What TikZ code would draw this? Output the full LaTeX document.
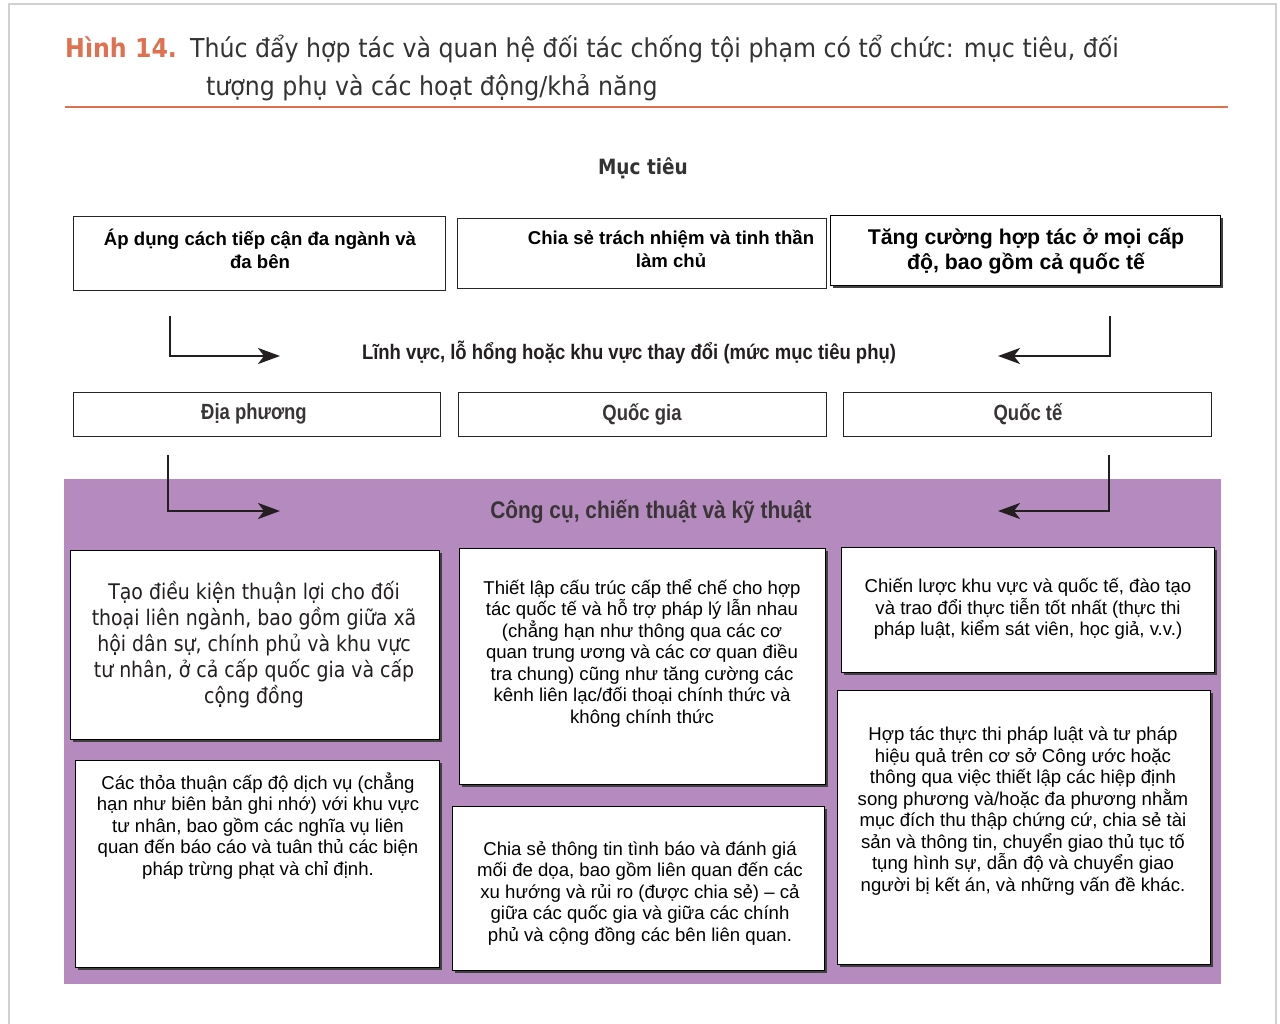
\documentclass[tikz,border=0pt]{standalone}
\usepackage{fontspec}
\setmainfont{Liberation Sans}
\newfontfamily\humfont[FakeStretch=0.91]{DejaVu Sans}
\newfontfamily\boxhumfont[FakeStretch=0.88]{DejaVu Sans}
\newfontfamily\narrowfont[FakeStretch=0.88]{Liberation Sans}
\newfontfamily\levelfont[FakeStretch=0.84]{Liberation Sans}
\newfontfamily\toolsfont[FakeStretch=0.87]{Liberation Sans}
\usetikzlibrary{shadows,arrows.meta}
\definecolor{accent}{HTML}{E0704F}
\definecolor{panelbg}{HTML}{B58BBF}
\definecolor{ink}{HTML}{231F20}
\definecolor{titleink}{HTML}{333333}
\begin{document}
\begin{tikzpicture}[x=1pt,y=-1pt,
  card/.style={draw=black, line width=1.1pt, fill=white, inner sep=0pt,
    anchor=north west,
    drop shadow={shadow xshift=2pt, shadow yshift=-2pt, fill=black!75, opacity=1}},
  plaincard/.style={draw=black!85, line width=1.1pt, fill=white, inner sep=0pt, anchor=north west},
  body/.style={align=center, font=\fontsize{18.6}{21.5}\selectfont, text=black, inner sep=0pt},
  headbold/.style={align=center, font=\fontsize{18.6}{22.5}\selectfont\bfseries, text=black, inner sep=0pt},
  levelname/.style={font=\levelfont\fontsize{22}{24}\selectfont\bfseries, text=ink!90, inner sep=0pt},
  flowarrow/.style={draw=ink, line width=2.3pt, -{Stealth[length=22pt,width=16pt,inset=6pt]}}
]
\useasboundingbox (0,0) rectangle (1280,1024);
\fill[white] (0,0) rectangle (1280,1024);
% page frame
\draw[black!18, line width=2pt] (9,1024) -- (9,4) -- (1276,4) -- (1276,1024);

% heading
\node[anchor=base west, inner sep=0pt, font=\humfont\fontsize{26}{30}\selectfont] (fignum) at (65,58)
  {\textcolor{accent}{\bfseries Hình 14.}};
\node[anchor=base west, inner sep=0pt, font=\humfont\fontsize{26}{30}\selectfont, text=titleink] (title1) at (190,58)
  {Thúc đẩy hợp tác và quan hệ đối tác chống tội phạm có tổ chức: mục tiêu, đối};
\node[anchor=base west, inner sep=0pt, font=\humfont\fontsize{26}{30}\selectfont, text=titleink] (title2) at (206,96)
  {tượng phụ và các hoạt động/khả năng};
\draw[accent, line width=2.2pt] (65,107) -- (1228,107);

% objectives
\node[font=\boxhumfont\fontsize{21}{24}\selectfont\bfseries, text=titleink] (goal) at (643,168) {Mục tiêu};

\node[plaincard, minimum width=372pt, minimum height=74pt] (o1) at (73,216) {};
\node[plaincard, minimum width=369pt, minimum height=70pt] (o2) at (457,218) {};
\node[card, minimum width=390pt, minimum height=70pt] (o3) at (830,215) {};
\node[headbold] (o1t) at (260,249) {Áp dụng cách tiếp cận đa ngành và\\đa bên};
\node[headbold] (o2t) at (671,249) {Chia sẻ trách nhiệm và tinh thần\\làm chủ};
\node[headbold, font=\fontsize{21.3}{24.5}\selectfont\bfseries] (o3t) at (1026,251) {Tăng cường hợp tác ở mọi cấp\\độ, bao gồm cả quốc tế};

% sub-objective level
\coordinate (s1a) at (170,316); \coordinate (s1b) at (280,356);
\coordinate (s2a) at (1110,316); \coordinate (s2b) at (998,356);
\draw[flowarrow] (s1a) |- (s1b);
\draw[flowarrow] (s2a) |- (s2b);
\node[font=\narrowfont\fontsize{21}{23}\selectfont\bfseries, text=ink] (sub) at (629,352)
  {Lĩnh vực, lỗ hổng hoặc khu vực thay đổi (mức mục tiêu phụ)};

\node[plaincard, minimum width=367pt, minimum height=44pt] (l1) at (73,392) {};
\node[plaincard, minimum width=368pt, minimum height=44pt] (l2) at (458,392) {};
\node[plaincard, minimum width=368pt, minimum height=44pt] (l3) at (843,392) {};
\node[levelname] (l1t) at (254,414) {Địa phương};
\node[levelname] (l2t) at (642,414) {Quốc gia};
\node[levelname] (l3t) at (1028,414) {Quốc tế};

% tools panel
\fill[panelbg] (64,479) rectangle (1221,984);
\coordinate (t1a) at (168,455); \coordinate (t1b) at (280,511);
\coordinate (t2a) at (1109,455); \coordinate (t2b) at (998,511);
\draw[flowarrow] (t1a) |- (t1b);
\draw[flowarrow] (t2a) |- (t2b);
\node[font=\toolsfont\fontsize{24}{26}\selectfont\bfseries, text=ink!90] (tools) at (651,512)
  {Công cụ, chiến thuật và kỹ thuật};

\node[card, minimum width=369pt, minimum height=189pt] (c1) at (70,550) {};
\node[card, minimum width=364pt, minimum height=207pt] (c2) at (75,760) {};
\node[card, minimum width=366pt, minimum height=236pt] (c3) at (459,548) {};
\node[card, minimum width=372pt, minimum height=164pt] (c4) at (452,806) {};
\node[card, minimum width=373pt, minimum height=125pt] (c5) at (841,547) {};
\node[card, minimum width=373pt, minimum height=274pt] (c6) at (837,690) {};

\node[body, font=\boxhumfont\fontsize{21.5}{26}\selectfont, text=ink] (c1t) at (254,645)
  {Tạo điều kiện thuận lợi cho đối\\thoại liên ngành, bao gồm giữa xã\\hội dân sự, chính phủ và khu vực\\tư nhân, ở cả cấp quốc gia và cấp\\cộng đồng};
\node[body] (c2t) at (258,826)
  {Các thỏa thuận cấp độ dịch vụ (chẳng\\hạn như biên bản ghi nhớ) với khu vực\\tư nhân, bao gồm các nghĩa vụ liên\\quan đến báo cáo và tuân thủ các biện\\pháp trừng phạt và chỉ định.};
\node[body] (c3t) at (642,653)
  {Thiết lập cấu trúc cấp thể chế cho hợp\\tác quốc tế và hỗ trợ pháp lý lẫn nhau\\(chẳng hạn như thông qua các cơ\\quan trung ương và các cơ quan điều\\tra chung) cũng như tăng cường các\\kênh liên lạc/đối thoại chính thức và\\không chính thức};
\node[body] (c4t) at (640,893)
  {Chia sẻ thông tin tình báo và đánh giá\\mối đe dọa, bao gồm liên quan đến các\\xu hướng và rủi ro (được chia sẻ) – cả\\giữa các quốc gia và giữa các chính\\phủ và cộng đồng các bên liên quan.};
\node[body] (c5t) at (1028,609)
  {Chiến lược khu vực và quốc tế, đào tạo\\và trao đổi thực tiễn tốt nhất (thực thi\\pháp luật, kiểm sát viên, học giả, v.v.)};
\node[body] (c6t) at (1023,811)
  {Hợp tác thực thi pháp luật và tư pháp\\hiệu quả trên cơ sở Công ước hoặc\\thông qua việc thiết lập các hiệp định\\song phương và/hoặc đa phương nhằm\\mục đích thu thập chứng cứ, chia sẻ tài\\sản và thông tin, chuyển giao thủ tục tố\\tụng hình sự, dẫn độ và chuyển giao\\người bị kết án, và những vấn đề khác.};
\end{tikzpicture}
\end{document}
